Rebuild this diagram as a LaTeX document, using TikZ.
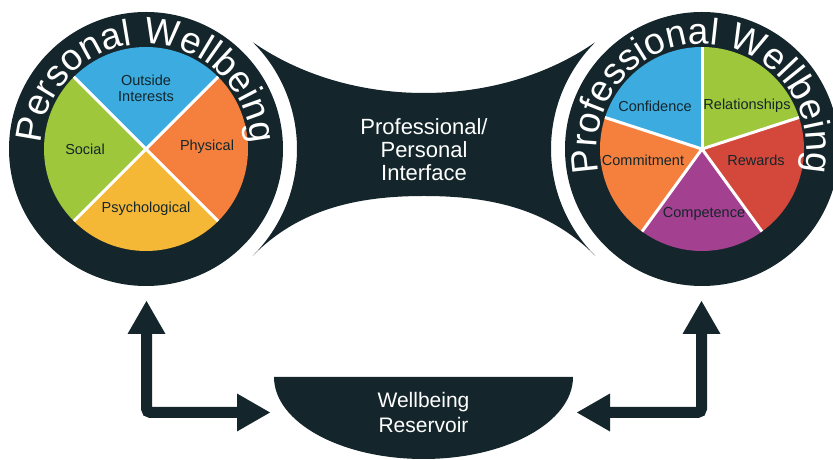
\documentclass[tikz,border=0pt]{standalone}
\usepackage{fontspec}
\setmainfont{Liberation Sans}
\usetikzlibrary{arrows.meta,decorations.text}
\definecolor{colordark}{rgb}{0.08, 0.15, 0.17}
\definecolor{colorblue}{rgb}{0.23, 0.67, 0.88}
\definecolor{colorgreen}{rgb}{0.62, 0.78, 0.23}
\definecolor{colororange}{rgb}{0.96, 0.50, 0.24}
\definecolor{coloryellow}{rgb}{0.96, 0.72, 0.21}
\definecolor{colorred}{rgb}{0.83, 0.28, 0.23}
\definecolor{colorpurple}{rgb}{0.64, 0.25, 0.56}

\begin{document}
\begin{tikzpicture}[x=1pt,y=1pt,every node/.style={inner sep=0pt, outer sep=0pt, align=center},
  slice/.style={text=colordark, font=\fontsize{14.5}{16}\selectfont},
  bigtext/.style={text=white, font=\fontsize{22}{23}\selectfont},
  divider/.style={white, line width=3pt},
  link/.style={colordark, line width=11pt, rounded corners=4pt,
    {Triangle[length=33pt,width=38pt,line width=0pt]}-{Triangle[length=33pt,width=38pt,line width=0pt]}}]

\useasboundingbox (0,0) rectangle (833,460);

\coordinate (pwc) at (146,311);
\coordinate (prc) at (702,311);

% the interface between both circles
\fill[colordark] ([shift={(45:151)}]pwc) .. controls (300,385) and (360,367) .. (424,367)
  .. controls (488,367) and (548,385) .. ([shift={(135:151)}]prc)
  arc[start angle=135, end angle=225, radius=151]
  .. controls (550,250) and (493,264) .. (424,264)
  .. controls (355,264) and (298,250) .. ([shift={(-45:151)}]pwc)
  arc[start angle=-45, end angle=45, radius=151] -- cycle;
\node[bigtext] (interface) at (424,310) {Professional/\\Personal\\Interface};

% personal wellbeing
\node[circle, fill=colordark, minimum size=274pt] (pw) at (pwc) {};
\fill[colorblue]   (pw.center) -- ++(45:102) arc[start angle=45, end angle=135, radius=102] -- cycle;
\fill[colorgreen]  (pw.center) -- ++(135:102) arc[start angle=135, end angle=225, radius=102] -- cycle;
\fill[coloryellow] (pw.center) -- ++(225:102) arc[start angle=225, end angle=315, radius=102] -- cycle;
\fill[colororange] (pw.center) -- ++(315:102) arc[start angle=315, end angle=405, radius=102] -- cycle;
\draw[divider] ([shift={(45:102)}]pw.center) -- ([shift={(225:102)}]pw.center);
\draw[divider] ([shift={(135:102)}]pw.center) -- ([shift={(315:102)}]pw.center);
\node[slice] (outside)       at (146,372) {Outside\\Interests};
\node[slice] (social)        at (85,311)  {Social};
\node[slice] (physical)      at (207,313) {Physical};
\node[slice] (psychological) at (146,251) {Psychological};
\path[decorate, decoration={text along path, text align=center, text color=white,
  text={|\fontsize{37}{37}\selectfont|Personal Wellbeing}}]
  ([shift={(185:105)}]pw.center) arc[start angle=185, end angle=-5, radius=105];

% professional wellbeing
\node[circle, fill=colordark, minimum size=274pt] (prw) at (prc) {};
\fill[colorgreen]  (prw.center) -- ++(18:102) arc[start angle=18, end angle=90, radius=102] -- cycle;
\fill[colorblue]   (prw.center) -- ++(90:102) arc[start angle=90, end angle=162, radius=102] -- cycle;
\fill[colororange] (prw.center) -- ++(162:102) arc[start angle=162, end angle=234, radius=102] -- cycle;
\fill[colorpurple] (prw.center) -- ++(234:102) arc[start angle=234, end angle=306, radius=102] -- cycle;
\fill[colorred]    (prw.center) -- ++(306:102) arc[start angle=306, end angle=378, radius=102] -- cycle;
\draw[divider] (prw.center) -- ++(18:102);
\draw[divider] (prw.center) -- ++(90:102);
\draw[divider] (prw.center) -- ++(162:102);
\draw[divider] (prw.center) -- ++(234:102);
\draw[divider] (prw.center) -- ++(306:102);
\node[slice] (confidence)    at (655,354) {Confidence};
\node[slice] (relationships) at (747,354) {Relationships};
\node[slice] (commitment)    at (643,300) {Commitment};
\node[slice] (rewards)       at (756,300) {Rewards};
\node[slice] (competence)    at (704,246) {Competence};
\path[decorate, decoration={text along path, text align=center, text color=white,
  text={|\fontsize{37}{37}\selectfont|Professional Wellbeing}}]
  ([shift={(200:105)}]prw.center) arc[start angle=200, end angle=-20, radius=105];

% reservoir
\fill[colordark] (274,83) arc[start angle=180, end angle=360, x radius=149.5, y radius=82] -- cycle;
\node[bigtext, font=\fontsize{21}{25}\selectfont] (reservoir) at (423.5,47.5) {Wellbeing\\Reservoir};

\coordinate (pwfoot) at (146.5,159);
\coordinate (prwfoot) at (701.5,159);
\coordinate (resleft) at (270,47.5);
\coordinate (resright) at (577,47.5);
\draw[link] (pwfoot) |- (resleft);
\draw[link] (prwfoot) |- (resright);

\end{tikzpicture}
\end{document}
